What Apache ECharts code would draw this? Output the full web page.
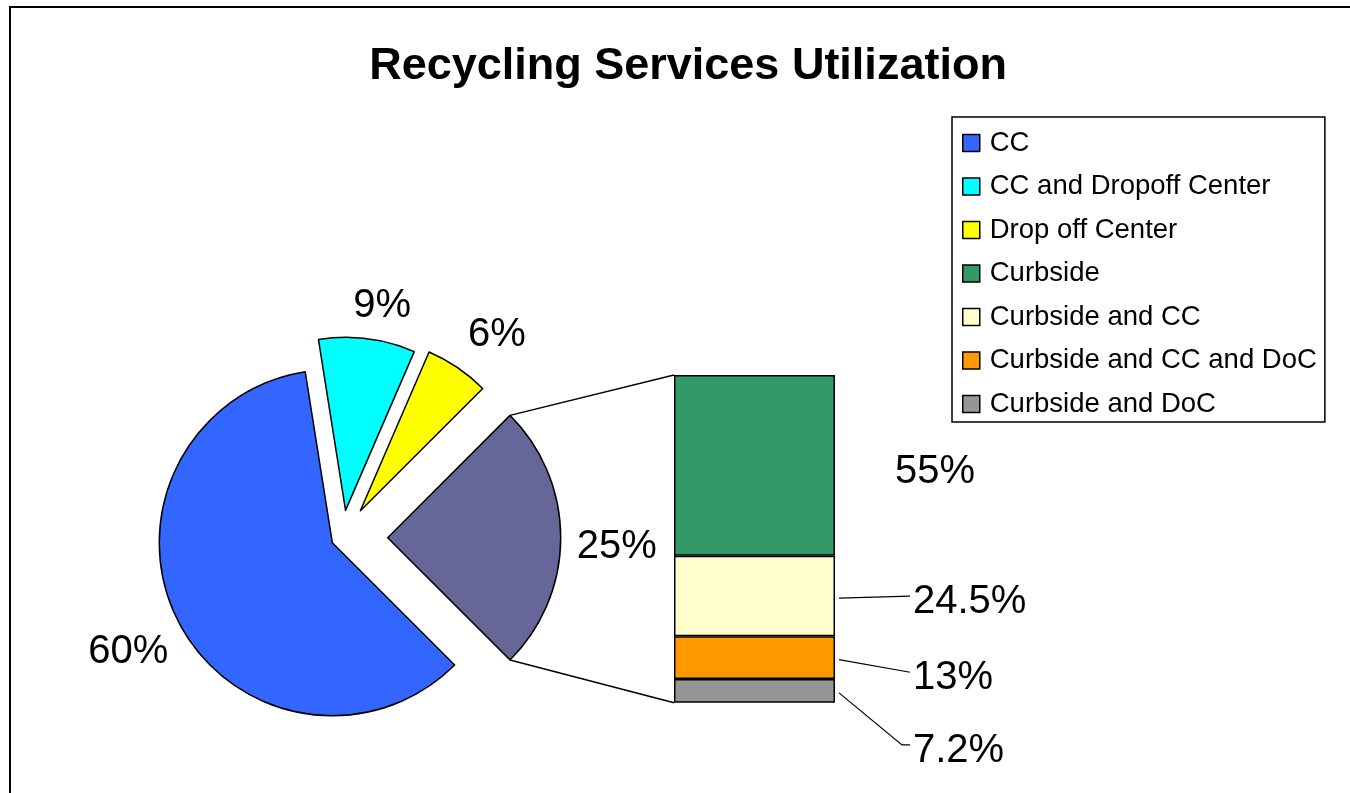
<!DOCTYPE html>
<html>
<head>
<meta charset="utf-8">
<style>
  html, body { margin: 0; padding: 0; background: #ffffff; }
  #chart { width: 1350px; height: 793px; }
</style>
<script src="https://cdn.jsdelivr.net/npm/echarts@6/dist/echarts.min.js"></script>
</head>
<body>
<div id="chart"></div>
<script>
// ---------------- data ----------------
const pieNames = ['CC', 'CC and Dropoff Center', 'Drop off Center', 'Other'];
const pieValues = [60, 9, 6, 25];
const pieColors = ['#3366FF', '#00FFFF', '#FFFF00', '#666699'];

const barNames = ['Curbside', 'Curbside and CC', 'Curbside and CC and DoC', 'Curbside and DoC'];
const barValues = [55, 24.5, 13, 7.2];
const barColors = ['#339966', '#FFFFCC', '#FF9900', '#969696'];

const titleText = 'Recycling Services Utilization';

// ---------------- layout / style ----------------
const FONT = '"Liberation Sans", Arial, sans-serif';
const PIE_CENTER = [342.1, 537.7];
const PIE_R = 173;
const START_ANGLE = 315;               // degrees (ECharts convention), clockwise
const EXPLODE = [11, 27.5, 32.5, 45.6]; // px each slice is pulled out
const LABEL_DIST = [229, 212, 225, 228];// px from slice apex to label centre
const LABEL_NUDGE = [[0, 5], [10, 6], [10, 10], [1, 9]];
const BAR_LABEL_DIST = [60, 78, 78, 78];
const BAR_LABEL_DY = [7, 6, 20.6, 60];
const BAR_LINE_BEND = [0, 0, 0, 8];
const LABEL_SIZE = 40;

const pieTotal = pieValues.reduce((a, b) => a + b, 0);
const barTotal = barValues.reduce((a, b) => a + b, 0);

// geometry of each slice (angles in math convention, degrees)
const sliceGeom = [];
let cum = 0;
pieValues.forEach((v, i) => {
  const a0 = START_ANGLE - 360 * cum / pieTotal;
  const a1 = a0 - 360 * v / pieTotal;
  cum += v;
  const mid = (a0 + a1) / 2 * Math.PI / 180;
  const dir = [Math.cos(mid), -Math.sin(mid)];
  const apex = [PIE_CENTER[0] + EXPLODE[i] * dir[0], PIE_CENTER[1] + EXPLODE[i] * dir[1]];
  sliceGeom.push({ a0, a1, dir, apex });
});

const series = [];
pieValues.forEach((_, k) => {
  const g = sliceGeom[k];
  const off = LABEL_DIST[k] - PIE_R / 2 - 3;
  series.push({
    type: 'pie',
    silent: true,
    animation: false,
    startAngle: START_ANGLE,
    clockwise: true,
    center: g.apex,
    radius: [0, PIE_R],
    avoidLabelOverlap: false,
    emphasis: { disabled: true },
    data: pieValues.map((v, i) => {
      if (i === k) {
        return {
          name: pieNames[i], value: v,
          itemStyle: { color: pieColors[i], borderColor: '#000', borderWidth: 1.5 },
          label: {
            show: true, position: 'inside', formatter: '{c}%',
            offset: [off * g.dir[0] + LABEL_NUDGE[i][0], off * g.dir[1] + LABEL_NUDGE[i][1]],
            fontSize: LABEL_SIZE, fontFamily: FONT, color: '#000', fontWeight: 'normal'
          },
          labelLine: { show: false }
        };
      }
      return {
        name: '__hidden_' + k + '_' + i, value: v,
        itemStyle: { color: 'rgba(0,0,0,0)', borderWidth: 0 },
        label: { show: false }, labelLine: { show: false }
      };
    })
  });
});

// stacked bar: bottom segment first
for (let i = barValues.length - 1; i >= 0; i--) {
  series.push({
    type: 'bar',
    name: barNames[i],
    stack: 'other',
    silent: true,
    animation: false,
    barWidth: '100%',
    xAxisIndex: 0, yAxisIndex: 0,
    itemStyle: { color: barColors[i], borderColor: '#000', borderWidth: 1.5 },
    label: {
      show: true, position: 'right', distance: BAR_LABEL_DIST[i],
      offset: [0, BAR_LABEL_DY[i]], formatter: '{c}%',
      fontSize: LABEL_SIZE, fontFamily: FONT, color: '#000'
    },
    labelLine: { show: false },
    data: [barValues[i]]
  });
}

const chart = echarts.init(document.getElementById('chart'), null, { renderer: 'canvas' });

const legendData = pieNames.slice(0, 3).concat(barNames);

chart.setOption({
  backgroundColor: '#ffffff',
  animation: false,
  title: {
    text: titleText,
    left: 688, top: 44, padding: 0,
    textAlign: 'center',
    textStyle: { fontSize: 45, fontWeight: 'bold', fontFamily: FONT, color: '#000' }
  },
  legend: {
    data: legendData,
    orient: 'vertical',
    left: 952, top: 117,
    padding: [11, 8, 3, 10],
    borderColor: '#000', borderWidth: 1.5,
    backgroundColor: '#fff',
    icon: 'rect',
    itemWidth: 17, itemHeight: 17, itemGap: 13.5,
    selectedMode: false,
    itemStyle: { borderColor: '#000', borderWidth: 1.5 },
    textStyle: { fontSize: 27.5, lineHeight: 30, fontFamily: FONT, color: '#000', padding: [0, 0, 0, 5] }
  },
  grid: { left: 674, top: 375, width: 161, bottom: 90.3, containLabel: false },
  xAxis: { type: 'category', data: ['Other'], show: false },
  yAxis: { type: 'value', min: 0, max: barTotal, show: false },
  series: series
});

// connector lines between the exploded "Other" slice and the bar
const og = sliceGeom[3];
const aTop = og.a0 * Math.PI / 180, aBot = og.a1 * Math.PI / 180;
const pTop = [og.apex[0] + PIE_R * Math.cos(aTop), og.apex[1] - PIE_R * Math.sin(aTop)];
const pBot = [og.apex[0] + PIE_R * Math.cos(aBot), og.apex[1] - PIE_R * Math.sin(aBot)];
const gridRect = chart.getModel().getComponent('grid', 0).coordinateSystem.getRect();
const barLeft = gridRect.x;
const barRight = gridRect.x + gridRect.width;
const barTopY = chart.convertToPixel({ yAxisIndex: 0 }, barTotal);
const barBotY = chart.convertToPixel({ yAxisIndex: 0 }, 0);

const graphics = [
  { type: 'rect', silent: true, z: 100, shape: { x: 10, y: 7, width: 1400, height: 900 },
    style: { fill: 'none', stroke: '#000', lineWidth: 2 } },
  { type: 'line', silent: true, z: 1, shape: { x1: pTop[0], y1: pTop[1], x2: barLeft, y2: barTopY },
    style: { stroke: '#000', lineWidth: 1.5 } },
  { type: 'line', silent: true, z: 1, shape: { x1: pBot[0], y1: pBot[1], x2: barLeft, y2: barBotY },
    style: { stroke: '#000', lineWidth: 1.5 } }
];

// leader lines from bar segments to their labels (all but the top segment)
let below = 0;
const segMid = new Array(barValues.length);
for (let i = barValues.length - 1; i >= 0; i--) {
  const lo = chart.convertToPixel({ yAxisIndex: 0 }, below);
  const hi = chart.convertToPixel({ yAxisIndex: 0 }, below + barValues[i]);
  segMid[i] = (lo + hi) / 2;
  below += barValues[i];
}
for (let i = 1; i < barValues.length; i++) {
  const sx = barRight + 4, sy = segMid[i] + 2;
  const ex = barRight + BAR_LABEL_DIST[i] - 3, ey = segMid[i] + BAR_LABEL_DY[i] - 6;
  const pts = [[sx, sy]];
  if (BAR_LINE_BEND[i] > 0) pts.push([ex - BAR_LINE_BEND[i], ey]);
  pts.push([ex, ey]);
  graphics.push({ type: 'polyline', silent: true, z: 5, shape: { points: pts },
    style: { stroke: '#000', lineWidth: 1.2, fill: null } });
}

chart.setOption({ graphic: graphics });
</script>
</body>
</html>
